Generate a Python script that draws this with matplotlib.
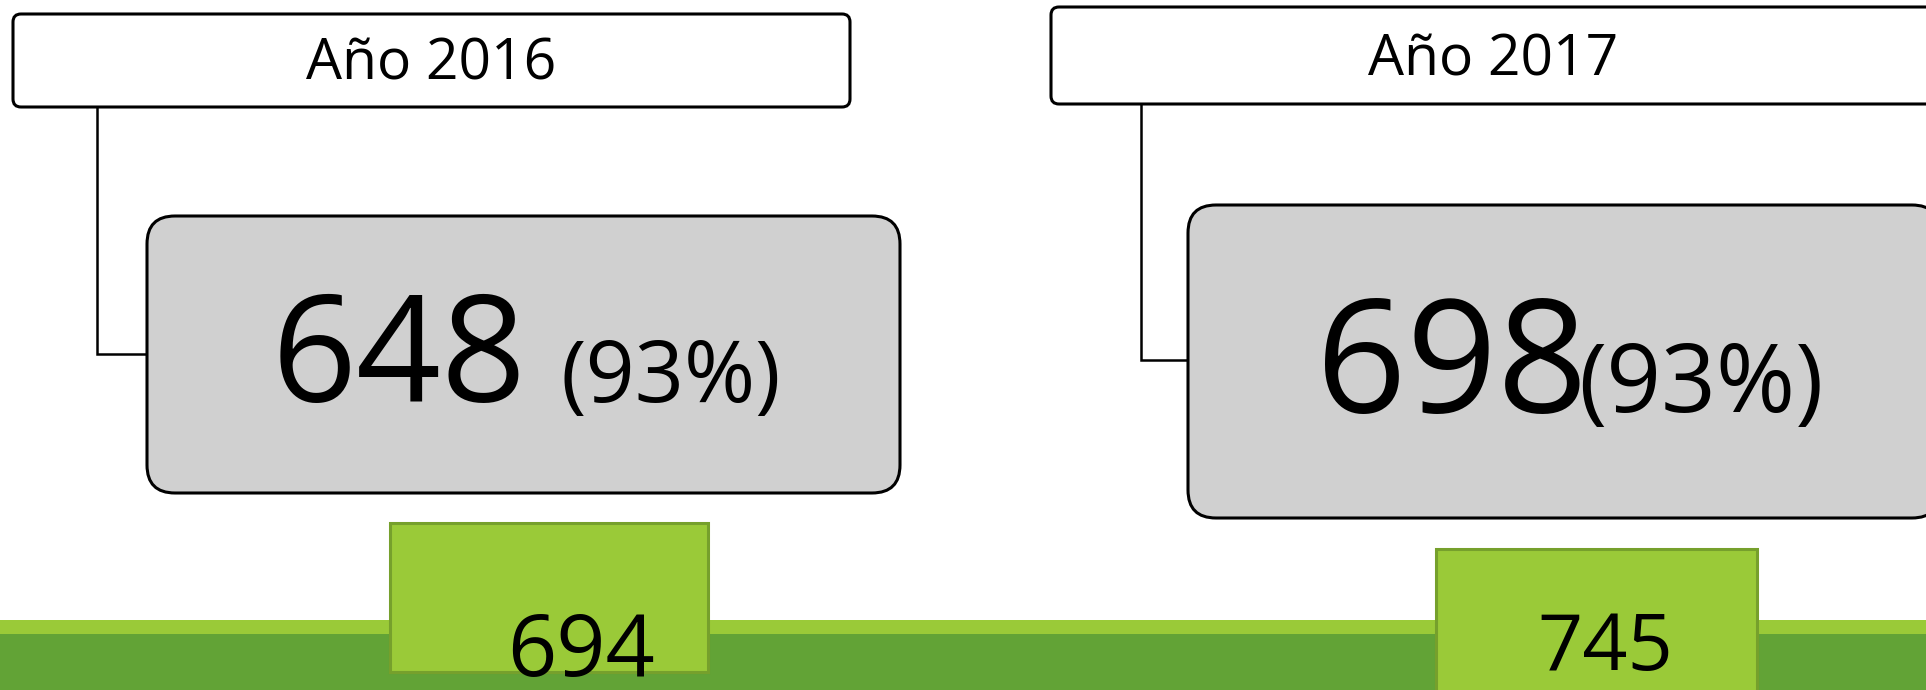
import matplotlib
matplotlib.use("Agg")
import matplotlib.pyplot as plt
from matplotlib.patches import FancyBboxPatch, Rectangle

# ---- data ----
years = ["Año 2016", "Año 2017"]
main_values = [648, 698]
percents = [93, 93]
totals = [694, 745]

# ---- layout (pixel coordinates, y downward) ----
W, H = 1926, 690
year_boxes = [(13, 14, 837, 93), (1051, 7, 900, 97)]
year_text_xy = [(431, 80), (1493, 75)]
connectors = [(97, 107, 354, 147), (1141, 104, 360, 1188)]
gray_boxes = [(147, 216, 753, 277), (1188, 205, 752, 313)]
main_xy = [(272, 402), (1316, 412)]
main_size = [107, 114]
pct_xy = [(560, 402), (1578, 412)]
pct_size = [62, 69]
green_boxes = [(390, 523, 318, 149), (1436, 549, 321, 160)]
total_xy = [(581, 676), (1605, 670)]
total_size = [62, 57]

LIGHT = "#9ACA38"
DARK = "#62A336"
GEDGE = "#76A02C"
GRAY = "#D0D0D0"

fig = plt.figure(figsize=(W / 100, H / 100), dpi=100)
ax = fig.add_axes([0, 0, 1, 1])
ax.set_xlim(0, W)
ax.set_ylim(H, 0)
ax.axis("off")

FONT = ["Open Sans", "DejaVu Sans"]

# green band
ax.axhspan(620, 634, color=LIGHT, lw=0, zorder=1)
ax.axhspan(634, H, color=DARK, lw=0, zorder=1)

for i in range(len(years)):
    # year box
    x, y, w, h = year_boxes[i]
    ax.add_patch(FancyBboxPatch((x, y), w, h,
                                boxstyle="round,pad=0,rounding_size=8",
                                fc="white", ec="black", lw=2.2, zorder=3))
    tx, ty = year_text_xy[i]
    ax.text(tx, ty, years[i], ha="center", va="baseline", fontsize=41,
            family=FONT, color="black", zorder=4)

    # connector
    cx, cy0, cy1, cx1 = connectors[i]
    ax.plot([cx, cx, cx1], [cy0, cy1, cy1], color="black", lw=1.8,
            solid_joinstyle="miter", zorder=2)

    # gray box
    x, y, w, h = gray_boxes[i]
    ax.add_patch(FancyBboxPatch((x, y), w, h,
                                boxstyle="round,pad=0,rounding_size=28",
                                fc=GRAY, ec="black", lw=2.2, zorder=3))
    mx, my = main_xy[i]
    ax.text(mx, my, f"{main_values[i]}", ha="left", va="baseline",
            fontsize=main_size[i], family=FONT, color="black", zorder=4)
    px, py = pct_xy[i]
    ax.text(px, py, f"({percents[i]}%)", ha="left", va="baseline",
            fontsize=pct_size[i], family=FONT, color="black", zorder=4)

    # green total box
    x, y, w, h = green_boxes[i]
    ax.add_patch(Rectangle((x, y), w, h, fc=LIGHT, ec=GEDGE, lw=2.2, zorder=5))
    gx, gy = total_xy[i]
    ax.text(gx, gy, f"{totals[i]}", ha="center", va="baseline",
            fontsize=total_size[i], family=FONT, color="black", zorder=6)

fig.savefig("out.png", dpi=100, facecolor="white")
